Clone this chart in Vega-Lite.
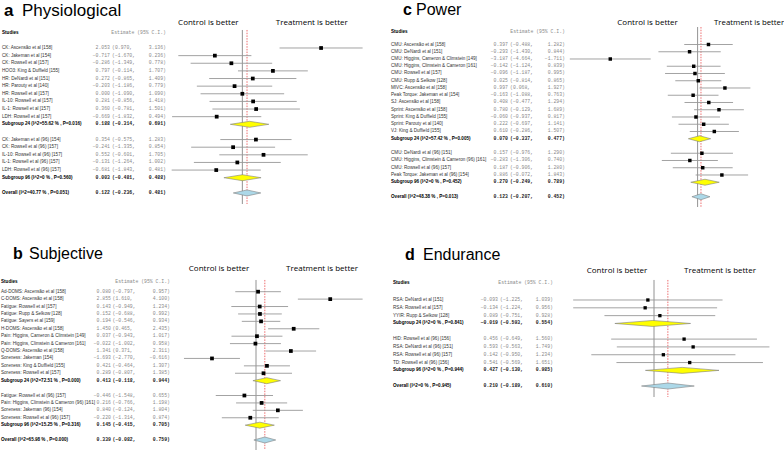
{
"$schema": "https://vega.github.io/schema/vega-lite/v6.json",
"padding": 0,
"background": "white",
"bounds": "flush",
"columns": 4,
"align": {"row": "each", "column": "none"},
"spacing": {"row": 23, "column": 0},
"config": {
  "view": {"stroke": null},
  "text": {"font": "Liberation Sans", "fontSize": 4.6, "baseline": "middle"},
  "square": {"filled": true, "opacity": 1, "color": "#000"},
  "rule": {"color": "#999", "strokeWidth": 0.9},
  "axis": {"grid": false, "domainColor": "#888", "tickColor": "#888", "labelColor": "#333", "labelFontSize": 4.5, "labelPadding": 1, "tickSize": 2.5, "titleFontSize": 5.5, "titleFontWeight": "normal", "titleColor": "#222", "titlePadding": 2.5, "labelFlush": false, "labelFont": "Liberation Sans", "titleFont": "Liberation Sans"}
},
"datasets": {
  "fp": [
    {"p": "a", "r": 0, "t": "s", "name": "CK: Ascensão et al [158]", "est": 2.053, "lo": 0.970, "hi": 3.136},
    {"p": "a", "r": 1, "t": "s", "name": "CK: Jakeman et al [154]", "est": -0.717, "lo": -1.670, "hi": 0.236},
    {"p": "a", "r": 2, "t": "s", "name": "CK: Rowsell et al [157]", "est": -0.286, "lo": -1.349, "hi": 0.778},
    {"p": "a", "r": 3, "t": "s", "name": "HOO3: King & Duffield [155]", "est": 0.797, "lo": -0.114, "hi": 1.707},
    {"p": "a", "r": 4, "t": "s", "name": "HR: DeNardi et al [151]", "est": 0.272, "lo": -0.865, "hi": 1.409},
    {"p": "a", "r": 5, "t": "s", "name": "HR: Parouty et al [140]", "est": -0.203, "lo": -1.186, "hi": 0.779},
    {"p": "a", "r": 6, "t": "s", "name": "HR: Rowsell et al [157]", "est": 0.000, "lo": -1.090, "hi": 1.090},
    {"p": "a", "r": 7, "t": "s", "name": "IL-10: Rowsell et al [157]", "est": 0.281, "lo": -0.856, "hi": 1.418},
    {"p": "a", "r": 8, "t": "s", "name": "IL-1: Rowsell et al [157]", "est": 0.360, "lo": -0.781, "hi": 1.501},
    {"p": "a", "r": 9, "t": "s", "name": "LDH: Rowsell et al [157]", "est": -0.669, "lo": -1.832, "hi": 0.494},
    {"p": "a", "r": 10, "t": "g", "name": "Subgroup 24 (I^2=55.62 % , P=0.016)", "est": 0.188, "lo": -0.314, "hi": 0.691},
    {"p": "a", "r": 12, "t": "s", "name": "CK: Jakeman et al (96) [154]", "est": 0.354, "lo": -0.575, "hi": 1.283},
    {"p": "a", "r": 13, "t": "s", "name": "CK: Rowsell et al (96) [157]", "est": -0.241, "lo": -1.335, "hi": 0.854},
    {"p": "a", "r": 14, "t": "s", "name": "IL-10: Rowsell et al (96) [157]", "est": 0.552, "lo": -0.601, "hi": 1.705},
    {"p": "a", "r": 15, "t": "s", "name": "IL-1: Rowsell et al (96) [157]", "est": -0.131, "lo": -1.264, "hi": 1.002},
    {"p": "a", "r": 16, "t": "s", "name": "LDH: Rowsell et al (96) [157]", "est": -0.681, "lo": -1.843, "hi": 0.481},
    {"p": "a", "r": 17, "t": "g", "name": "Subgroup 96 (I^2=0 % , P=0.560)", "est": 0.003, "lo": -0.481, "hi": 0.488},
    {"p": "a", "r": 19, "t": "o", "name": "Overall (I^2=40.77 % , P=0.051)", "est": 0.122, "lo": -0.236, "hi": 0.481},

    {"p": "c", "r": 0, "t": "s", "name": "CMU: Ascensão et al [158]", "est": 0.397, "lo": -0.488, "hi": 1.282},
    {"p": "c", "r": 1, "t": "s", "name": "CMU: DeNardi et al [151]", "est": -0.293, "lo": -1.430, "hi": 0.844},
    {"p": "c", "r": 2, "t": "s", "name": "CMU: Higgins, Cameron & Climstein [149]", "est": -3.187, "lo": -4.664, "hi": -1.711},
    {"p": "c", "r": 3, "t": "s", "name": "CMU: Higgins, Climstein & Cameron [161]", "est": -0.142, "lo": -1.124, "hi": 0.839},
    {"p": "c", "r": 4, "t": "s", "name": "CMU: Rowsell et al [157]", "est": -0.096, "lo": -1.187, "hi": 0.995},
    {"p": "c", "r": 5, "t": "s", "name": "CMU: Rupp & Selkow [128]", "est": 0.025, "lo": -0.814, "hi": 0.865},
    {"p": "c", "r": 6, "t": "s", "name": "MIVC: Ascensão et al [158]", "est": 0.997, "lo": 0.068, "hi": 1.927},
    {"p": "c", "r": 7, "t": "s", "name": "Peak Torque: Jakeman et al [154]", "est": -0.163, "lo": -1.088, "hi": 0.763},
    {"p": "c", "r": 8, "t": "s", "name": "SJ: Ascensão et al [158]", "est": 0.408, "lo": -0.477, "hi": 1.294},
    {"p": "c", "r": 9, "t": "s", "name": "Sprint: Ascensão et al [158]", "est": 0.780, "lo": -0.129, "hi": 1.689},
    {"p": "c", "r": 10, "t": "s", "name": "Sprint: King & Duffield [155]", "est": -0.060, "lo": -0.937, "hi": 0.817},
    {"p": "c", "r": 11, "t": "s", "name": "Sprint: Parouty et al [140]", "est": 0.222, "lo": -0.697, "hi": 1.141},
    {"p": "c", "r": 12, "t": "s", "name": "VJ: King & Duffield [155]", "est": 0.610, "lo": -0.286, "hi": 1.507},
    {"p": "c", "r": 13, "t": "g", "name": "Subgroup 24 (I^2=57.42 % , P=0.005)", "est": 0.070, "lo": -0.337, "hi": 0.477},
    {"p": "c", "r": 15, "t": "s", "name": "CMU: DeNardi et al (96) [151]", "est": 0.157, "lo": -0.976, "hi": 1.290},
    {"p": "c", "r": 16, "t": "s", "name": "CMU: Higgins, Climstein & Cameron (96) [161]", "est": -0.283, "lo": -1.306, "hi": 0.740},
    {"p": "c", "r": 17, "t": "s", "name": "CMU: Rowsell et al (96) [157]", "est": 0.187, "lo": -0.906, "hi": 1.280},
    {"p": "c", "r": 18, "t": "s", "name": "Peak Torque: Jakeman et al (96) [154]", "est": 0.886, "lo": -0.072, "hi": 1.843},
    {"p": "c", "r": 19, "t": "g", "name": "Subgroup 96 (I^2=0 % , P=0.452)", "est": 0.270, "lo": -0.249, "hi": 0.789},
    {"p": "c", "r": 21, "t": "o", "name": "Overall (I^2=48.38 % , P=0.013)", "est": 0.123, "lo": -0.207, "hi": 0.452},

    {"p": "b", "r": 0, "t": "s", "name": "Ad-DOMS: Ascensão et al [158]", "est": 0.080, "lo": -0.797, "hi": 0.957},
    {"p": "b", "r": 1, "t": "s", "name": "C-DOMS: Ascensão et al [158]", "est": 2.855, "lo": 1.610, "hi": 4.100},
    {"p": "b", "r": 2, "t": "s", "name": "Fatigue: Rowsell et al [157]", "est": 0.143, "lo": -0.949, "hi": 1.234},
    {"p": "b", "r": 3, "t": "s", "name": "Fatigue: Rupp & Selkow [128]", "est": 0.152, "lo": -0.688, "hi": 0.992},
    {"p": "b", "r": 4, "t": "s", "name": "Fatigue: Sayers et al [159]", "est": 0.194, "lo": -0.546, "hi": 0.934},
    {"p": "b", "r": 5, "t": "s", "name": "H-DOMS: Ascensão et al [158]", "est": 1.450, "lo": 0.465, "hi": 2.435},
    {"p": "b", "r": 6, "t": "s", "name": "Pain: Higgins, Cameron & Climstein [149]", "est": 0.037, "lo": -0.943, "hi": 1.017},
    {"p": "b", "r": 7, "t": "s", "name": "Pain: Higgins, Climstein & Cameron [161]", "est": -0.022, "lo": -1.002, "hi": 0.958},
    {"p": "b", "r": 8, "t": "s", "name": "Q-DOMS: Ascensão et al [158]", "est": 1.341, "lo": 0.371, "hi": 2.311},
    {"p": "b", "r": 9, "t": "s", "name": "Soreness: Jakeman [154]", "est": -1.693, "lo": -2.770, "hi": -0.616},
    {"p": "b", "r": 10, "t": "s", "name": "Soreness: King & Duffield [155]", "est": 0.421, "lo": -0.464, "hi": 1.307},
    {"p": "b", "r": 11, "t": "s", "name": "Soreness: Rowsell et al [157]", "est": 0.289, "lo": -0.807, "hi": 1.385},
    {"p": "b", "r": 12, "t": "g", "name": "Subgroup 24 (I^2=72.51 % , P=0.000)", "est": 0.413, "lo": -0.118, "hi": 0.944},
    {"p": "b", "r": 14, "t": "s", "name": "Fatigue: Rowsell et al (96) [157]", "est": -0.446, "lo": -1.548, "hi": 0.655},
    {"p": "b", "r": 15, "t": "s", "name": "Pain: Higgins, Climstein & Cameron (96) [161]", "est": 0.216, "lo": -0.766, "hi": 1.198},
    {"p": "b", "r": 16, "t": "s", "name": "Soreness: Jakeman (96) [154]", "est": 0.840, "lo": -0.124, "hi": 1.804},
    {"p": "b", "r": 17, "t": "s", "name": "Soreness: Rowsell et al (96) [157]", "est": -0.220, "lo": -1.314, "hi": 0.874},
    {"p": "b", "r": 18, "t": "g", "name": "Subgroup 96 (I^2=15.25 % , P=0.316)", "est": 0.145, "lo": -0.415, "hi": 0.705},
    {"p": "b", "r": 20, "t": "o", "name": "Overall (I^2=65.98 % , P=0.000)", "est": 0.339, "lo": -0.082, "hi": 0.759},

    {"p": "d", "r": 0, "t": "s", "name": "RSA: DeNardi et al [151]", "est": -0.093, "lo": -1.225, "hi": 1.039},
    {"p": "d", "r": 1, "t": "s", "name": "RSA: Rowsell et al [157]", "est": -0.134, "lo": -1.224, "hi": 0.956},
    {"p": "d", "r": 2, "t": "s", "name": "YYIR: Rupp & Selkow [128]", "est": 0.089, "lo": -0.751, "hi": 0.928},
    {"p": "d", "r": 3, "t": "g", "name": "Subgroup 24 (I^2=0 % , P=0.841)", "est": -0.019, "lo": -0.593, "hi": 0.554},
    {"p": "d", "r": 5, "t": "s", "name": "HID: Rowsell et al (96) [156]", "est": 0.456, "lo": -0.649, "hi": 1.560},
    {"p": "d", "r": 6, "t": "s", "name": "RSA: DeNardi et al (96) [151]", "est": 0.593, "lo": -0.563, "hi": 1.749},
    {"p": "d", "r": 7, "t": "s", "name": "RSA: Rowsell et al (96) [157]", "est": 0.142, "lo": -0.950, "hi": 1.234},
    {"p": "d", "r": 8, "t": "s", "name": "TD: Rowsell et al (96) [156]", "est": 0.541, "lo": -0.569, "hi": 1.651},
    {"p": "d", "r": 9, "t": "g", "name": "Subgroup 96 (I^2=0 % , P=0.944)", "est": 0.427, "lo": -0.130, "hi": 0.985},
    {"p": "d", "r": 11, "t": "o", "name": "Overall (I^2=0 % , P=0.945)", "est": 0.210, "lo": -0.189, "hi": 0.610}
  ]
},
"concat": [
  {"width": 203.6, "height": 204, "data": {"name": "fp"}, "transform": [{"filter": "datum.p == 'a'"}],
   "layer": [
    {"mark": {"type": "text", "align": "left", "fontWeight": {"expr": "datum.t == 's' ? 'normal' : 'bold'"}, "fill": {"expr": "datum.t == 's' ? '#333' : '#000'"}},
     "encoding": {"x": {"value": 2}, "y": {"field": "r", "type": "quantitative", "scale": {"domain": [-6.291, 20.446], "reverse": true, "nice": false, "zero": false}, "axis": null}, "text": {"field": "name"}}},
    {"mark": {"type": "text", "align": "right", "font": "Liberation Mono", "fontSize": 4.8, "fontWeight": {"expr": "datum.t == 's' ? 'normal' : 'bold'"}, "fill": {"expr": "datum.t == 's' ? '#8a8a8a' : '#222'"}},
     "encoding": {"x": {"value": 110}, "y": {"field": "r", "type": "quantitative", "scale": {"domain": [-6.291, 20.446], "reverse": true, "nice": false, "zero": false}, "axis": null}, "text": {"field": "est", "format": ".3f"}}},
    {"mark": {"type": "text", "align": "left", "font": "Liberation Mono", "fontSize": 4.8, "fontWeight": {"expr": "datum.t == 's' ? 'normal' : 'bold'"}, "fill": {"expr": "datum.t == 's' ? '#8a8a8a' : '#222'"}, "text": {"expr": "'(' + format(datum.lo, '.3f') + ','"}},
     "encoding": {"x": {"value": 112}, "y": {"field": "r", "type": "quantitative", "scale": {"domain": [-6.291, 20.446], "reverse": true, "nice": false, "zero": false}, "axis": null}}},
    {"mark": {"type": "text", "align": "right", "font": "Liberation Mono", "fontSize": 4.8, "fontWeight": {"expr": "datum.t == 's' ? 'normal' : 'bold'"}, "fill": {"expr": "datum.t == 's' ? '#8a8a8a' : '#222'"}, "text": {"expr": "format(datum.hi, '.3f') + ')'"}},
     "encoding": {"x": {"value": 166}, "y": {"field": "r", "type": "quantitative", "scale": {"domain": [-6.291, 20.446], "reverse": true, "nice": false, "zero": false}, "axis": null}}},
    {"data": {"values": [{}]}, "mark": {"type": "text", "align": "left", "fontWeight": "bold", "fill": "#000", "text": "Studies"},
     "encoding": {"x": {"value": 2}, "y": {"datum": -1.93, "type": "quantitative", "scale": {"domain": [-6.291, 20.446], "reverse": true, "nice": false, "zero": false}, "axis": null}}},
    {"data": {"values": [{}]}, "mark": {"type": "text", "align": "right", "font": "Liberation Mono", "fontSize": 4.8, "fill": "#8a8a8a", "text": "Estimate (95% C.I.)"},
     "encoding": {"x": {"value": 166}, "y": {"datum": -1.93, "type": "quantitative", "scale": {"domain": [-6.291, 20.446], "reverse": true, "nice": false, "zero": false}, "axis": null}}},
    {"data": {"values": [{}]}, "mark": {"type": "text", "align": "left", "baseline": "alphabetic", "font": "Liberation Sans", "fontSize": 17, "fontWeight": "bold", "fill": "#000", "text": "a"},
     "encoding": {"x": {"value": 4}, "y": {"datum": -4.2, "type": "quantitative", "scale": {"domain": [-6.291, 20.446], "reverse": true, "nice": false, "zero": false}, "axis": null}}},
    {"data": {"values": [{}]}, "mark": {"type": "text", "align": "left", "baseline": "alphabetic", "font": "Liberation Sans", "fontSize": 17, "fill": "#000", "text": "Physiological"},
     "encoding": {"x": {"value": 22}, "y": {"datum": -4.2, "type": "quantitative", "scale": {"domain": [-6.291, 20.446], "reverse": true, "nice": false, "zero": false}, "axis": null}}}
   ]},
  {"width": 153.4, "height": 204, "data": {"name": "fp"}, "transform": [{"filter": "datum.p == 'a'"}],
   "layer": [
    {"data": {"values": [{}]}, "mark": {"type": "rule", "color": "#777", "strokeWidth": 0.8},
     "encoding": {"x": {"datum": 0, "type": "quantitative", "scale": {"domain": [-1, 3], "nice": false, "zero": false}, "axis": null}, "y": {"datum": -2.36, "type": "quantitative", "scale": {"domain": [-6.291, 20.446], "reverse": true, "nice": false, "zero": false}, "axis": null}, "y2": {"datum": 20.446}}},
    {"transform": [{"filter": "datum.t == 'o'"}], "mark": {"type": "rule", "color": "#e8474a", "strokeDash": [1.5, 1.2], "strokeWidth": 0.8},
     "encoding": {"x": {"field": "est", "type": "quantitative", "scale": {"domain": [-1, 3], "nice": false, "zero": false}, "axis": null}, "y": {"datum": -2.36, "type": "quantitative", "scale": {"domain": [-6.291, 20.446], "reverse": true, "nice": false, "zero": false}, "axis": null}, "y2": {"datum": 20.446}}},
    {"transform": [{"filter": "datum.t == 's'"}], "mark": {"type": "rule"},
     "encoding": {"x": {"field": "lo", "type": "quantitative", "scale": {"domain": [-1, 3], "nice": false, "zero": false}, "axis": {"values": [-1, 0, 1, 2, 3], "title": "Standardized Mean Difference", "titleX": 63}}, "x2": {"field": "hi"}, "y": {"field": "r", "type": "quantitative", "scale": {"domain": [-6.291, 20.446], "reverse": true, "nice": false, "zero": false}, "axis": null}}},
    {"transform": [{"filter": "datum.t != 's'"}, {"fold": ["lo", "est", "hi"], "as": ["k", "v"]}],
     "mark": {"type": "area", "orient": "vertical", "stroke": "#808080", "strokeWidth": 0.6, "yOffset": {"expr": "datum.k == 'est' ? -3 : 0"}, "y2Offset": {"expr": "datum.k == 'est' ? 3 : 0"}},
     "encoding": {"x": {"field": "v", "type": "quantitative", "scale": {"domain": [-1, 3], "nice": false, "zero": false}, "axis": null}, "y": {"field": "r", "type": "quantitative", "scale": {"domain": [-6.291, 20.446], "reverse": true, "nice": false, "zero": false}, "axis": null}, "y2": {"field": "r"}, "detail": {"field": "r", "type": "nominal"}, "fill": {"condition": {"test": "datum.t == 'o'", "value": "#acd8e8"}, "value": "#ffff00"}}},
    {"transform": [{"filter": "datum.t == 's'"}], "mark": {"type": "square", "size": 14},
     "encoding": {"x": {"field": "est", "type": "quantitative", "scale": {"domain": [-1, 3], "nice": false, "zero": false}, "axis": null}, "y": {"field": "r", "type": "quantitative", "scale": {"domain": [-6.291, 20.446], "reverse": true, "nice": false, "zero": false}, "axis": null}}},
    {"data": {"values": [{}]}, "mark": {"type": "text", "align": "center", "font": "Open Sans", "fontSize": 8, "fill": "#000", "text": "Control is better"},
     "encoding": {"x": {"datum": -0.886, "type": "quantitative", "scale": {"domain": [-1, 3], "nice": false, "zero": false}, "axis": null}, "y": {"datum": -3.28, "type": "quantitative", "scale": {"domain": [-6.291, 20.446], "reverse": true, "nice": false, "zero": false}, "axis": null}}},
    {"data": {"values": [{}]}, "mark": {"type": "text", "align": "center", "font": "Open Sans", "fontSize": 8, "fill": "#000", "text": "Treatment is better"},
     "encoding": {"x": {"datum": 1.81, "type": "quantitative", "scale": {"domain": [-1, 3], "nice": false, "zero": false}, "axis": null}, "y": {"datum": -3.28, "type": "quantitative", "scale": {"domain": [-6.291, 20.446], "reverse": true, "nice": false, "zero": false}, "axis": null}}}
   ]},
  {"width": 227.4, "height": 207, "data": {"name": "fp"}, "transform": [{"filter": "datum.p == 'c'"}],
   "layer": [
    {"mark": {"type": "text", "align": "left", "fontWeight": {"expr": "datum.t == 's' ? 'normal' : 'bold'"}, "fill": {"expr": "datum.t == 's' ? '#333' : '#000'"}},
     "encoding": {"x": {"value": 31}, "y": {"field": "r", "type": "quantitative", "scale": {"domain": [-6.138, 22.414], "reverse": true, "nice": false, "zero": false}, "axis": null}, "text": {"field": "name"}}},
    {"mark": {"type": "text", "align": "right", "font": "Liberation Mono", "fontSize": 4.8, "fontWeight": {"expr": "datum.t == 's' ? 'normal' : 'bold'"}, "fill": {"expr": "datum.t == 's' ? '#8a8a8a' : '#222'"}},
     "encoding": {"x": {"value": 148}, "y": {"field": "r", "type": "quantitative", "scale": {"domain": [-6.138, 22.414], "reverse": true, "nice": false, "zero": false}, "axis": null}, "text": {"field": "est", "format": ".3f"}}},
    {"mark": {"type": "text", "align": "left", "font": "Liberation Mono", "fontSize": 4.8, "fontWeight": {"expr": "datum.t == 's' ? 'normal' : 'bold'"}, "fill": {"expr": "datum.t == 's' ? '#8a8a8a' : '#222'"}, "text": {"expr": "'(' + format(datum.lo, '.3f') + ','"}},
     "encoding": {"x": {"value": 150}, "y": {"field": "r", "type": "quantitative", "scale": {"domain": [-6.138, 22.414], "reverse": true, "nice": false, "zero": false}, "axis": null}}},
    {"mark": {"type": "text", "align": "right", "font": "Liberation Mono", "fontSize": 4.8, "fontWeight": {"expr": "datum.t == 's' ? 'normal' : 'bold'"}, "fill": {"expr": "datum.t == 's' ? '#8a8a8a' : '#222'"}, "text": {"expr": "format(datum.hi, '.3f') + ')'"}},
     "encoding": {"x": {"value": 205}, "y": {"field": "r", "type": "quantitative", "scale": {"domain": [-6.138, 22.414], "reverse": true, "nice": false, "zero": false}, "axis": null}}},
    {"data": {"values": [{}]}, "mark": {"type": "text", "align": "left", "fontWeight": "bold", "fill": "#000", "text": "Studies"},
     "encoding": {"x": {"value": 31}, "y": {"datum": -1.77, "type": "quantitative", "scale": {"domain": [-6.138, 22.414], "reverse": true, "nice": false, "zero": false}, "axis": null}}},
    {"data": {"values": [{}]}, "mark": {"type": "text", "align": "right", "font": "Liberation Mono", "fontSize": 4.8, "fill": "#8a8a8a", "text": "Estimate (95% C.I.)"},
     "encoding": {"x": {"value": 205}, "y": {"datum": -1.77, "type": "quantitative", "scale": {"domain": [-6.138, 22.414], "reverse": true, "nice": false, "zero": false}, "axis": null}}},
    {"data": {"values": [{}]}, "mark": {"type": "text", "align": "left", "baseline": "alphabetic", "font": "Liberation Sans", "fontSize": 16, "fontWeight": "bold", "fill": "#000", "text": "c"},
     "encoding": {"x": {"value": 43}, "y": {"datum": -4.11, "type": "quantitative", "scale": {"domain": [-6.138, 22.414], "reverse": true, "nice": false, "zero": false}, "axis": null}}},
    {"data": {"values": [{}]}, "mark": {"type": "text", "align": "left", "baseline": "alphabetic", "font": "Liberation Sans", "fontSize": 16, "fill": "#000", "text": "Power"},
     "encoding": {"x": {"value": 56}, "y": {"datum": -4.11, "type": "quantitative", "scale": {"domain": [-6.138, 22.414], "reverse": true, "nice": false, "zero": false}, "axis": null}}}
   ]},
  {"width": 137, "height": 207, "data": {"name": "fp"}, "transform": [{"filter": "datum.p == 'c'"}],
   "layer": [
    {"data": {"values": [{}]}, "mark": {"type": "rule", "color": "#777", "strokeWidth": 0.8},
     "encoding": {"x": {"datum": 0, "type": "quantitative", "scale": {"domain": [-4, 1], "nice": false, "zero": false}, "axis": null}, "y": {"datum": -2.41, "type": "quantitative", "scale": {"domain": [-6.138, 22.414], "reverse": true, "nice": false, "zero": false}, "axis": null}, "y2": {"datum": 22.414}}},
    {"transform": [{"filter": "datum.t == 'o'"}], "mark": {"type": "rule", "color": "#e8474a", "strokeDash": [1.5, 1.2], "strokeWidth": 0.8},
     "encoding": {"x": {"field": "est", "type": "quantitative", "scale": {"domain": [-4, 1], "nice": false, "zero": false}, "axis": null}, "y": {"datum": -2.41, "type": "quantitative", "scale": {"domain": [-6.138, 22.414], "reverse": true, "nice": false, "zero": false}, "axis": null}, "y2": {"datum": 22.414}}},
    {"transform": [{"filter": "datum.t == 's'"}], "mark": {"type": "rule"},
     "encoding": {"x": {"field": "lo", "type": "quantitative", "scale": {"domain": [-4, 1], "nice": false, "zero": false}, "axis": {"values": [-4, -3, -2, -1, 0, 1], "title": "Standardized Mean Difference", "titleX": 72.6}}, "x2": {"field": "hi"}, "y": {"field": "r", "type": "quantitative", "scale": {"domain": [-6.138, 22.414], "reverse": true, "nice": false, "zero": false}, "axis": null}}},
    {"transform": [{"filter": "datum.t != 's'"}, {"fold": ["lo", "est", "hi"], "as": ["k", "v"]}],
     "mark": {"type": "area", "orient": "vertical", "stroke": "#808080", "strokeWidth": 0.6, "yOffset": {"expr": "datum.k == 'est' ? -3 : 0"}, "y2Offset": {"expr": "datum.k == 'est' ? 3 : 0"}},
     "encoding": {"x": {"field": "v", "type": "quantitative", "scale": {"domain": [-4, 1], "nice": false, "zero": false}, "axis": null}, "y": {"field": "r", "type": "quantitative", "scale": {"domain": [-6.138, 22.414], "reverse": true, "nice": false, "zero": false}, "axis": null}, "y2": {"field": "r"}, "detail": {"field": "r", "type": "nominal"}, "fill": {"condition": {"test": "datum.t == 'o'", "value": "#acd8e8"}, "value": "#ffff00"}}},
    {"transform": [{"filter": "datum.t == 's'"}], "mark": {"type": "square", "size": 12},
     "encoding": {"x": {"field": "est", "type": "quantitative", "scale": {"domain": [-4, 1], "nice": false, "zero": false}, "axis": null}, "y": {"field": "r", "type": "quantitative", "scale": {"domain": [-6.138, 22.414], "reverse": true, "nice": false, "zero": false}, "axis": null}}},
    {"data": {"values": [{}]}, "mark": {"type": "text", "align": "center", "font": "Open Sans", "fontSize": 8, "fill": "#000", "text": "Control is better"},
     "encoding": {"x": {"datum": -1.825, "type": "quantitative", "scale": {"domain": [-4, 1], "nice": false, "zero": false}, "axis": null}, "y": {"datum": -2.92, "type": "quantitative", "scale": {"domain": [-6.138, 22.414], "reverse": true, "nice": false, "zero": false}, "axis": null}}},
    {"data": {"values": [{}]}, "mark": {"type": "text", "align": "center", "font": "Open Sans", "fontSize": 7.8, "fill": "#000", "text": "Treatment is better"},
     "encoding": {"x": {"datum": 1.88, "type": "quantitative", "scale": {"domain": [-4, 1], "nice": false, "zero": false}, "axis": null}, "y": {"datum": -2.92, "type": "quantitative", "scale": {"domain": [-6.138, 22.414], "reverse": true, "nice": false, "zero": false}, "axis": null}}}
   ]},
  {"width": 199, "height": 220, "data": {"name": "fp"}, "transform": [{"filter": "datum.p == 'b'"}],
   "layer": [
    {"mark": {"type": "text", "align": "left", "fontWeight": {"expr": "datum.t == 's' ? 'normal' : 'bold'"}, "fill": {"expr": "datum.t == 's' ? '#333' : '#000'"}},
     "encoding": {"x": {"value": 1}, "y": {"field": "r", "type": "quantitative", "scale": {"domain": [-8.321, 21.349], "reverse": true, "nice": false, "zero": false}, "axis": null}, "text": {"field": "name"}}},
    {"mark": {"type": "text", "align": "right", "font": "Liberation Mono", "fontSize": 4.8, "fontWeight": {"expr": "datum.t == 's' ? 'normal' : 'bold'"}, "fill": {"expr": "datum.t == 's' ? '#8a8a8a' : '#222'"}},
     "encoding": {"x": {"value": 111}, "y": {"field": "r", "type": "quantitative", "scale": {"domain": [-8.321, 21.349], "reverse": true, "nice": false, "zero": false}, "axis": null}, "text": {"field": "est", "format": ".3f"}}},
    {"mark": {"type": "text", "align": "left", "font": "Liberation Mono", "fontSize": 4.8, "fontWeight": {"expr": "datum.t == 's' ? 'normal' : 'bold'"}, "fill": {"expr": "datum.t == 's' ? '#8a8a8a' : '#222'"}, "text": {"expr": "'(' + format(datum.lo, '.3f') + ','"}},
     "encoding": {"x": {"value": 112.5}, "y": {"field": "r", "type": "quantitative", "scale": {"domain": [-8.321, 21.349], "reverse": true, "nice": false, "zero": false}, "axis": null}}},
    {"mark": {"type": "text", "align": "right", "font": "Liberation Mono", "fontSize": 4.8, "fontWeight": {"expr": "datum.t == 's' ? 'normal' : 'bold'"}, "fill": {"expr": "datum.t == 's' ? '#8a8a8a' : '#222'"}, "text": {"expr": "format(datum.hi, '.3f') + ')'"}},
     "encoding": {"x": {"value": 170}, "y": {"field": "r", "type": "quantitative", "scale": {"domain": [-8.321, 21.349], "reverse": true, "nice": false, "zero": false}, "axis": null}}},
    {"data": {"values": [{}]}, "mark": {"type": "text", "align": "left", "fontWeight": "bold", "fill": "#000", "text": "Studies"},
     "encoding": {"x": {"value": 1}, "y": {"datum": -1.31, "type": "quantitative", "scale": {"domain": [-8.321, 21.349], "reverse": true, "nice": false, "zero": false}, "axis": null}}},
    {"data": {"values": [{}]}, "mark": {"type": "text", "align": "right", "font": "Liberation Mono", "fontSize": 4.8, "fill": "#8a8a8a", "text": "Estimate (95% C.I.)"},
     "encoding": {"x": {"value": 170}, "y": {"datum": -1.31, "type": "quantitative", "scale": {"domain": [-8.321, 21.349], "reverse": true, "nice": false, "zero": false}, "axis": null}}},
    {"data": {"values": [{}]}, "mark": {"type": "text", "align": "left", "baseline": "alphabetic", "font": "Liberation Sans", "fontSize": 16, "fontWeight": "bold", "fill": "#000", "text": "b"},
     "encoding": {"x": {"value": 13}, "y": {"datum": -4.37, "type": "quantitative", "scale": {"domain": [-8.321, 21.349], "reverse": true, "nice": false, "zero": false}, "axis": null}}},
    {"data": {"values": [{}]}, "mark": {"type": "text", "align": "left", "baseline": "alphabetic", "font": "Liberation Sans", "fontSize": 16, "fill": "#000", "text": "Subjective"},
     "encoding": {"x": {"value": 29}, "y": {"datum": -4.37, "type": "quantitative", "scale": {"domain": [-8.321, 21.349], "reverse": true, "nice": false, "zero": false}, "axis": null}}}
   ]},
  {"width": 156, "height": 220, "data": {"name": "fp"}, "transform": [{"filter": "datum.p == 'b'"}],
   "layer": [
    {"data": {"values": [{}]}, "mark": {"type": "rule", "color": "#777", "strokeWidth": 0.8},
     "encoding": {"x": {"datum": 0, "type": "quantitative", "scale": {"domain": [-2, 4], "nice": false, "zero": false}, "axis": null}, "y": {"datum": -1.58, "type": "quantitative", "scale": {"domain": [-8.321, 21.349], "reverse": true, "nice": false, "zero": false}, "axis": null}, "y2": {"datum": 21.349}}},
    {"transform": [{"filter": "datum.t == 'o'"}], "mark": {"type": "rule", "color": "#e8474a", "strokeDash": [1.5, 1.2], "strokeWidth": 0.8},
     "encoding": {"x": {"field": "est", "type": "quantitative", "scale": {"domain": [-2, 4], "nice": false, "zero": false}, "axis": null}, "y": {"datum": -1.58, "type": "quantitative", "scale": {"domain": [-8.321, 21.349], "reverse": true, "nice": false, "zero": false}, "axis": null}, "y2": {"datum": 21.349}}},
    {"transform": [{"filter": "datum.t == 's'"}], "mark": {"type": "rule"},
     "encoding": {"x": {"field": "lo", "type": "quantitative", "scale": {"domain": [-2, 4], "nice": false, "zero": false}, "axis": {"values": [-2, -1, 0, 1, 2, 3, 4], "title": "Standardized Mean Difference", "titleX": 69}}, "x2": {"field": "hi"}, "y": {"field": "r", "type": "quantitative", "scale": {"domain": [-8.321, 21.349], "reverse": true, "nice": false, "zero": false}, "axis": null}}},
    {"transform": [{"filter": "datum.t != 's'"}, {"fold": ["lo", "est", "hi"], "as": ["k", "v"]}],
     "mark": {"type": "area", "orient": "vertical", "stroke": "#808080", "strokeWidth": 0.6, "yOffset": {"expr": "datum.k == 'est' ? -3 : 0"}, "y2Offset": {"expr": "datum.k == 'est' ? 3 : 0"}},
     "encoding": {"x": {"field": "v", "type": "quantitative", "scale": {"domain": [-2, 4], "nice": false, "zero": false}, "axis": null}, "y": {"field": "r", "type": "quantitative", "scale": {"domain": [-8.321, 21.349], "reverse": true, "nice": false, "zero": false}, "axis": null}, "y2": {"field": "r"}, "detail": {"field": "r", "type": "nominal"}, "fill": {"condition": {"test": "datum.t == 'o'", "value": "#acd8e8"}, "value": "#ffff00"}}},
    {"transform": [{"filter": "datum.t == 's'"}], "mark": {"type": "square", "size": 14},
     "encoding": {"x": {"field": "est", "type": "quantitative", "scale": {"domain": [-2, 4], "nice": false, "zero": false}, "axis": null}, "y": {"field": "r", "type": "quantitative", "scale": {"domain": [-8.321, 21.349], "reverse": true, "nice": false, "zero": false}, "axis": null}}},
    {"data": {"values": [{}]}, "mark": {"type": "text", "align": "center", "font": "Open Sans", "fontSize": 8, "fill": "#000", "text": "Control is better"},
     "encoding": {"x": {"datum": -1.42, "type": "quantitative", "scale": {"domain": [-2, 4], "nice": false, "zero": false}, "axis": null}, "y": {"datum": -3.06, "type": "quantitative", "scale": {"domain": [-8.321, 21.349], "reverse": true, "nice": false, "zero": false}, "axis": null}}},
    {"data": {"values": [{}]}, "mark": {"type": "text", "align": "center", "font": "Open Sans", "fontSize": 8, "fill": "#000", "text": "Treatment is better"},
     "encoding": {"x": {"datum": 2.54, "type": "quantitative", "scale": {"domain": [-2, 4], "nice": false, "zero": false}, "axis": null}, "y": {"datum": -3.06, "type": "quantitative", "scale": {"domain": [-8.321, 21.349], "reverse": true, "nice": false, "zero": false}, "axis": null}}}
   ]},
  {"width": 213, "height": 167, "data": {"name": "fp"}, "transform": [{"filter": "datum.p == 'd'"}],
   "layer": [
    {"mark": {"type": "text", "align": "left", "fontWeight": {"expr": "datum.t == 's' ? 'normal' : 'bold'"}, "fill": {"expr": "datum.t == 's' ? '#333' : '#000'"}},
     "encoding": {"x": {"value": 33}, "y": {"field": "r", "type": "quantitative", "scale": {"domain": [-8.951, 12.404], "reverse": true, "nice": false, "zero": false}, "axis": null}, "text": {"field": "name"}}},
    {"mark": {"type": "text", "align": "right", "font": "Liberation Mono", "fontSize": 4.8, "fontWeight": {"expr": "datum.t == 's' ? 'normal' : 'bold'"}, "fill": {"expr": "datum.t == 's' ? '#8a8a8a' : '#222'"}},
     "encoding": {"x": {"value": 138}, "y": {"field": "r", "type": "quantitative", "scale": {"domain": [-8.951, 12.404], "reverse": true, "nice": false, "zero": false}, "axis": null}, "text": {"field": "est", "format": ".3f"}}},
    {"mark": {"type": "text", "align": "left", "font": "Liberation Mono", "fontSize": 4.8, "fontWeight": {"expr": "datum.t == 's' ? 'normal' : 'bold'"}, "fill": {"expr": "datum.t == 's' ? '#8a8a8a' : '#222'"}, "text": {"expr": "'(' + format(datum.lo, '.3f') + ','"}},
     "encoding": {"x": {"value": 140}, "y": {"field": "r", "type": "quantitative", "scale": {"domain": [-8.951, 12.404], "reverse": true, "nice": false, "zero": false}, "axis": null}}},
    {"mark": {"type": "text", "align": "right", "font": "Liberation Mono", "fontSize": 4.8, "fontWeight": {"expr": "datum.t == 's' ? 'normal' : 'bold'"}, "fill": {"expr": "datum.t == 's' ? '#8a8a8a' : '#222'"}, "text": {"expr": "format(datum.hi, '.3f') + ')'"}},
     "encoding": {"x": {"value": 193}, "y": {"field": "r", "type": "quantitative", "scale": {"domain": [-8.951, 12.404], "reverse": true, "nice": false, "zero": false}, "axis": null}}},
    {"data": {"values": [{}]}, "mark": {"type": "text", "align": "left", "fontWeight": "bold", "fill": "#000", "text": "Studies"},
     "encoding": {"x": {"value": 33}, "y": {"datum": -2.13, "type": "quantitative", "scale": {"domain": [-8.951, 12.404], "reverse": true, "nice": false, "zero": false}, "axis": null}}},
    {"data": {"values": [{}]}, "mark": {"type": "text", "align": "right", "font": "Liberation Mono", "fontSize": 4.8, "fill": "#8a8a8a", "text": "Estimate (95% C.I.)"},
     "encoding": {"x": {"value": 193}, "y": {"datum": -2.13, "type": "quantitative", "scale": {"domain": [-8.951, 12.404], "reverse": true, "nice": false, "zero": false}, "axis": null}}},
    {"data": {"values": [{}]}, "mark": {"type": "text", "align": "left", "baseline": "alphabetic", "font": "Liberation Sans", "fontSize": 16, "fontWeight": "bold", "fill": "#000", "text": "d"},
     "encoding": {"x": {"value": 45}, "y": {"datum": -5.12, "type": "quantitative", "scale": {"domain": [-8.951, 12.404], "reverse": true, "nice": false, "zero": false}, "axis": null}}},
    {"data": {"values": [{}]}, "mark": {"type": "text", "align": "left", "baseline": "alphabetic", "font": "Liberation Sans", "fontSize": 16, "fill": "#000", "text": "Endurance"},
     "encoding": {"x": {"value": 63}, "y": {"datum": -5.12, "type": "quantitative", "scale": {"domain": [-8.951, 12.404], "reverse": true, "nice": false, "zero": false}, "axis": null}}}
   ]},
  {"width": 165, "height": 167, "data": {"name": "fp"}, "transform": [{"filter": "datum.p == 'd'"}],
   "layer": [
    {"data": {"values": [{}]}, "mark": {"type": "rule", "color": "#777", "strokeWidth": 0.8},
     "encoding": {"x": {"datum": 0, "type": "quantitative", "scale": {"domain": [-1, 1.5], "nice": false, "zero": false}, "axis": null}, "y": {"datum": -2.56, "type": "quantitative", "scale": {"domain": [-8.951, 12.404], "reverse": true, "nice": false, "zero": false}, "axis": null}, "y2": {"datum": 12.404}}},
    {"transform": [{"filter": "datum.t == 'o'"}], "mark": {"type": "rule", "color": "#e8474a", "strokeDash": [1.5, 1.2], "strokeWidth": 0.8},
     "encoding": {"x": {"field": "est", "type": "quantitative", "scale": {"domain": [-1, 1.5], "nice": false, "zero": false}, "axis": null}, "y": {"datum": -2.56, "type": "quantitative", "scale": {"domain": [-8.951, 12.404], "reverse": true, "nice": false, "zero": false}, "axis": null}, "y2": {"datum": 12.404}}},
    {"transform": [{"filter": "datum.t == 's'"}], "mark": {"type": "rule"},
     "encoding": {"x": {"field": "lo", "type": "quantitative", "scale": {"domain": [-1, 1.5], "nice": false, "zero": false}, "axis": {"values": [-1, -0.5, 0, 0.5, 1, 1.5], "title": "Standardized Mean Difference", "titleX": 84}}, "x2": {"field": "hi"}, "y": {"field": "r", "type": "quantitative", "scale": {"domain": [-8.951, 12.404], "reverse": true, "nice": false, "zero": false}, "axis": null}}},
    {"transform": [{"filter": "datum.t != 's'"}, {"fold": ["lo", "est", "hi"], "as": ["k", "v"]}],
     "mark": {"type": "area", "orient": "vertical", "stroke": "#808080", "strokeWidth": 0.6, "yOffset": {"expr": "datum.k == 'est' ? -3 : 0"}, "y2Offset": {"expr": "datum.k == 'est' ? 3 : 0"}},
     "encoding": {"x": {"field": "v", "type": "quantitative", "scale": {"domain": [-1, 1.5], "nice": false, "zero": false}, "axis": null}, "y": {"field": "r", "type": "quantitative", "scale": {"domain": [-8.951, 12.404], "reverse": true, "nice": false, "zero": false}, "axis": null}, "y2": {"field": "r"}, "detail": {"field": "r", "type": "nominal"}, "fill": {"condition": {"test": "datum.t == 'o'", "value": "#acd8e8"}, "value": "#ffff00"}}},
    {"transform": [{"filter": "datum.t == 's'"}], "mark": {"type": "square", "size": 11},
     "encoding": {"x": {"field": "est", "type": "quantitative", "scale": {"domain": [-1, 1.5], "nice": false, "zero": false}, "axis": null}, "y": {"field": "r", "type": "quantitative", "scale": {"domain": [-8.951, 12.404], "reverse": true, "nice": false, "zero": false}, "axis": null}}},
    {"data": {"values": [{}]}, "mark": {"type": "text", "align": "center", "font": "Open Sans", "fontSize": 8, "fill": "#000", "text": "Control is better"},
     "encoding": {"x": {"datum": -0.56, "type": "quantitative", "scale": {"domain": [-1, 1.5], "nice": false, "zero": false}, "axis": null}, "y": {"datum": -3.71, "type": "quantitative", "scale": {"domain": [-8.951, 12.404], "reverse": true, "nice": false, "zero": false}, "axis": null}}},
    {"data": {"values": [{}]}, "mark": {"type": "text", "align": "center", "font": "Open Sans", "fontSize": 8, "fill": "#000", "text": "Treatment is better"},
     "encoding": {"x": {"datum": 1.0, "type": "quantitative", "scale": {"domain": [-1, 1.5], "nice": false, "zero": false}, "axis": null}, "y": {"datum": -3.71, "type": "quantitative", "scale": {"domain": [-8.951, 12.404], "reverse": true, "nice": false, "zero": false}, "axis": null}}}
   ]}
]
}
